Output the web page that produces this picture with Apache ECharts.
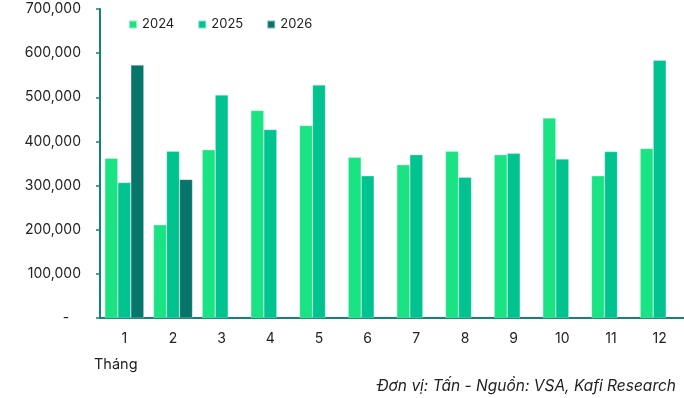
<!DOCTYPE html>
<html>
<head>
<meta charset="utf-8">
<script src="https://cdn.jsdelivr.net/npm/echarts@6/dist/echarts.min.js"></script>
<style>
  html, body { margin: 0; padding: 0; background: #fff; }
  #main { width: 684px; height: 398px; }
</style>
</head>
<body>
<div id="main"></div>
<script>
// du lieu doc tu hinh
var months = ['1', '2', '3', '4', '5', '6', '7', '8', '9', '10', '11', '12'];
var y2024 = [362000, 211000, 381000, 470000, 436000, 364000, 347000, 378000, 370000, 453000, 322000, 384000];
var y2025 = [307000, 378000, 505000, 427000, 528000, 322000, 370000, 319000, 373000, 360000, 377000, 584000];
var y2026 = [573000, 314000, null, null, null, null, null, null, null, null, null, null];
var yTicks = [0, 100000, 200000, 300000, 400000, 500000, 600000, 700000];

var axisColor = '#138277';
var font = 'Inter';

var chart = echarts.init(document.getElementById('main'));

function makeBar(name, data, color) {
    return {
        name: name,
        type: 'bar',
        data: data,
        barWidth: 13,
        barGap: '0%',
        itemStyle: {color: color, borderColor: 'rgba(255,255,255,0.5)', borderWidth: 0.5},
        animation: false
    };
}

var option = {
    backgroundColor: '#fff',
    textStyle: {fontFamily: font},
    legend: {
        top: 13,
        left: 123,
        itemWidth: 8,
        itemHeight: 8,
        itemGap: 23,
        icon: 'rect',
        textStyle: {fontFamily: font, fontSize: 13, color: '#222'},
        data: ['2024', '2025', '2026']
    },
    grid: {left: 100, top: 9, width: 589, bottom: 80, containLabel: false},
    xAxis: {
        type: 'category',
        data: months,
        axisLine: {lineStyle: {color: axisColor, width: 2}},
        axisTick: {show: false},
        axisLabel: {color: '#222', fontSize: 14, fontFamily: font, margin: 14}
    },
    yAxis: {
        type: 'value',
        min: yTicks[0],
        max: yTicks[yTicks.length - 1],
        interval: 100000,
        axisLine: {show: true, lineStyle: {color: axisColor, width: 2}},
        axisTick: {show: true, length: 4, lineStyle: {color: axisColor, width: 1.5}},
        splitLine: {show: false},
        axisLabel: {
            color: '#222',
            fontSize: 14,
            fontFamily: font,
            margin: 19,
            formatter: function (v) {
                return v === 0 ? '-   ' : v.toLocaleString('en-US');
            }
        }
    },
    graphic: [
        {
            type: 'text', left: 94, top: 357,
            style: {text: 'Tháng', font: '14.5px Inter', fill: '#222'}
        },
        {
            type: 'text', right: 8, top: 378,
            style: {text: 'Đơn vị: Tấn - Nguồn: VSA, Kafi Research', font: 'italic 15.5px Inter', fill: '#222'}
        }
    ],
    series: [
        makeBar('2024', y2024, '#1AE383'),
        makeBar('2025', y2025, '#00C38F'),
        makeBar('2026', y2026, '#08756A')
    ]
};
chart.setOption(option);
</script>
</body>
</html>
